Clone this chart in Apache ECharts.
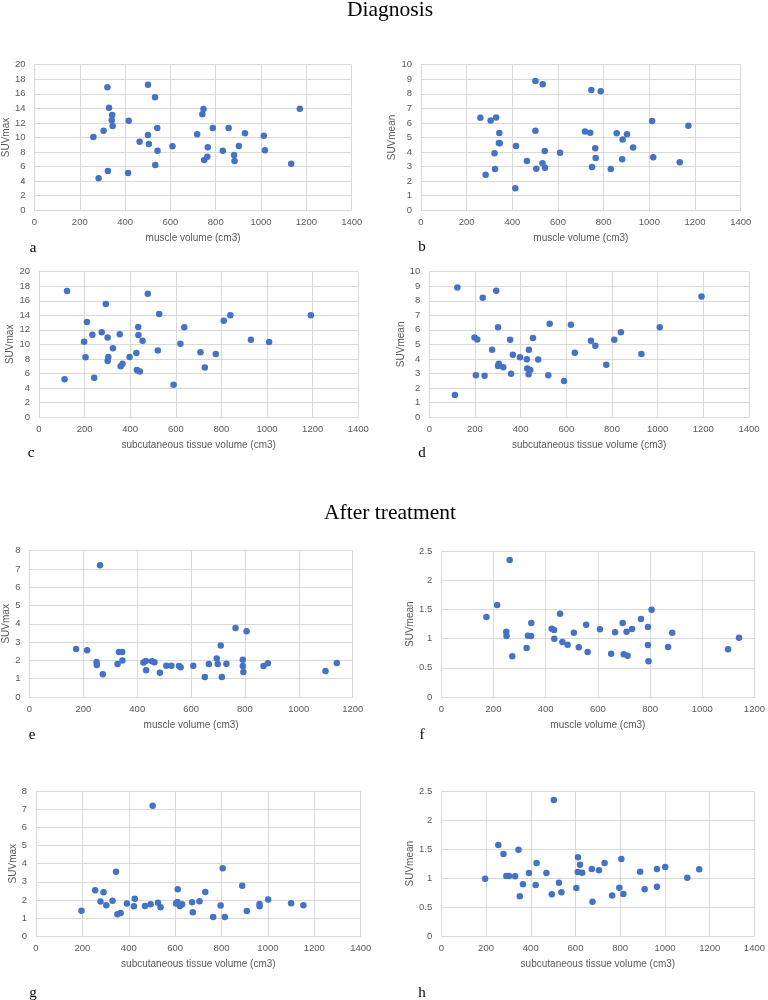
<!DOCTYPE html>
<html>
<head>
<meta charset="utf-8">
<script src="https://cdn.jsdelivr.net/npm/echarts@6/dist/echarts.min.js"></script>
<style>
html,body{margin:0;padding:0;background:#fff;}
#chart{width:768px;height:1000px;}
</style>
</head>
<body>
<div id="chart"></div>
<script>
// ---- Diagnosis: muscle volume (cm3) ----
const muscleDiag = [260, 283, 305, 322, 324, 329, 341, 343, 345, 413, 416, 464, 501, 501, 505, 532, 533, 542, 543, 609, 718, 741, 746, 749, 763, 765, 787, 831, 857, 881, 883, 902, 929, 1012, 1017, 1133, 1171];
const suvmaxMuscleDiag = [10.07, 4.39, 10.94, 16.89, 5.40, 14.1, 12.36, 13.09, 11.58, 5.13, 12.31, 9.43, 17.26, 10.34, 9.11, 15.52, 6.22, 11.31, 8.19, 8.79, 10.44, 13.18, 13.91, 6.91, 7.37, 8.65, 11.31, 8.19, 11.31, 7.60, 6.77, 8.83, 10.57, 10.25, 8.24, 6.41, 13.96];
const suvmeanMuscleDiag = [6.36, 2.45, 6.16, 3.91, 2.84, 6.38, 4.62, 5.31, 4.60, 1.51, 4.42, 3.39, 8.88, 5.47, 2.86, 3.23, 8.65, 4.07, 2.93, 3.96, 5.42, 5.33, 8.26, 2.97, 4.26, 3.59, 8.17, 2.84, 5.29, 3.50, 4.87, 5.22, 4.32, 6.13, 3.64, 3.30, 5.81];

// ---- Diagnosis: subcutaneous tissue volume (cm3) ----
const subcutDiag = [112, 123, 198, 204, 210, 234, 242, 275, 293, 301, 301, 304, 324, 354, 358, 366, 397, 427, 429, 435, 436, 442, 454, 477, 521, 527, 590, 620, 637, 708, 727, 775, 810, 839, 929, 1009, 1192];
const suvmaxSubcutDiag = [5.18, 17.34, 10.37, 8.21, 13.07, 11.33, 5.41, 11.65, 15.55, 10.96, 7.71, 8.26, 9.45, 11.38, 6.97, 7.34, 8.26, 8.81, 6.47, 12.39, 11.28, 6.28, 10.5, 16.97, 9.17, 14.17, 4.45, 10.09, 12.34, 8.90, 6.83, 8.67, 13.26, 13.99, 10.64, 10.32, 13.99];
const suvmeanSubcutDiag = [1.51, 8.92, 5.48, 2.87, 5.34, 8.21, 2.84, 4.63, 8.69, 6.17, 3.51, 3.67, 3.42, 5.32, 2.98, 4.29, 4.11, 3.97, 3.33, 2.94, 4.63, 3.23, 5.44, 3.95, 2.87, 6.42, 2.48, 6.35, 4.43, 5.25, 4.91, 3.60, 5.32, 5.83, 4.33, 6.17, 8.30];

// ---- After treatment: muscle volume (cm3) ----
const muscleAfter = [173, 214, 262, 249, 250, 272, 327, 332, 344, 345, 423, 432, 433, 455, 464, 484, 508, 527, 555, 561, 608, 651, 666, 695, 699, 710, 714, 731, 765, 806, 792, 792, 794, 869, 885, 1099, 1141];
const suvmaxMuscleAfter = [2.62, 2.55, 7.20, 1.91, 1.75, 1.24, 1.80, 2.46, 2.46, 1.99, 1.88, 1.97, 1.46, 1.95, 1.90, 1.33, 1.71, 1.71, 1.69, 1.62, 1.71, 1.09, 1.80, 2.11, 1.80, 2.81, 1.09, 1.82, 3.77, 3.59, 2.04, 1.69, 1.37, 1.69, 1.84, 1.42, 1.86];
const suvmeanMuscleAfter = [1.373, 1.579, 2.351, 1.121, 1.047, 0.698, 0.841, 1.053, 1.047, 1.270, 1.173, 1.150, 1.001, 1.430, 0.944, 0.898, 1.104, 0.852, 1.241, 0.772, 1.161, 0.744, 1.110, 1.270, 0.732, 1.121, 0.709, 1.167, 1.339, 1.499, 1.201, 0.892, 0.612, 0.858, 1.104, 0.818, 1.018];

// ---- After treatment: subcutaneous tissue volume (cm3) ----
const subcutAfter = [196, 255, 278, 291, 303, 330, 345, 351, 365, 392, 422, 426, 470, 494, 503, 526, 537, 604, 611, 610, 620, 630, 673, 676, 705, 730, 764, 796, 805, 814, 889, 909, 964, 964, 1001, 1100, 1153];
const suvmaxSubcutAfter = [1.41, 2.53, 1.91, 2.42, 1.71, 1.96, 3.56, 1.21, 1.28, 1.80, 1.65, 2.07, 1.67, 1.76, 7.19, 1.85, 1.60, 1.80, 2.59, 1.89, 1.67, 1.76, 1.87, 1.32, 1.93, 2.44, 1.06, 1.69, 3.74, 1.06, 2.79, 1.39, 1.78, 1.65, 2.02, 1.82, 1.71];
const suvmeanSubcutAfter = [0.992, 1.571, 1.416, 1.038, 1.038, 1.032, 1.491, 0.688, 0.894, 1.089, 0.883, 1.261, 1.089, 0.722, 2.345, 0.923, 0.757, 0.831, 1.359, 1.107, 1.233, 1.095, 1.158, 0.596, 1.135, 1.261, 0.700, 0.837, 1.330, 0.728, 1.112, 0.808, 0.854, 1.158, 1.193, 1.009, 1.153];

const titles = ["Diagnosis", "After treatment"];
const panelLetters = ["a", "b", "c", "d", "e", "f", "g", "h"];
const xNames = ["muscle volume (cm3)", "muscle volume (cm3)", "subcutaneous tissue volume (cm3)", "subcutaneous tissue volume (cm3)",
                "muscle volume (cm3)", "muscle volume (cm3)", "subcutaneous tissue volume (cm3)", "subcutaneous tissue volume (cm3)"];
const yNames = ["SUVmax", "SUVmean", "SUVmax", "SUVmean", "SUVmax", "SUVmean", "SUVmax", "SUVmean"];

// panel layout & axis settings (not data)
const panels = [
  {x: muscleDiag,  y: suvmaxMuscleDiag,   grid: {left: 32.3, top: 64.7, width: 319.4, height: 145.6}, xMax: 1400, yMax: 20, yInt: 2,   yGap: 21.5},
  {x: muscleDiag,  y: suvmeanMuscleDiag,  grid: {left: 421,  top: 64.7, width: 319.7, height: 145.6}, xMax: 1400, yMax: 10, yInt: 1,   yGap: 21.5},
  {x: subcutDiag,  y: suvmaxSubcutDiag,   grid: {left: 39,   top: 271.7, width: 319.3, height: 145.3}, xMax: 1400, yMax: 20, yInt: 2,  yGap: 22.5},
  {x: subcutDiag,  y: suvmeanSubcutDiag,  grid: {left: 429.3, top: 271.7, width: 319.7, height: 145.3}, xMax: 1400, yMax: 10, yInt: 1, yGap: 22.5},
  {x: muscleAfter, y: suvmaxMuscleAfter,  grid: {left: 28.3, top: 550.7, width: 324.4, height: 146.3}, xMax: 1200, yMax: 8, yInt: 1,    yGap: 18.5},
  {x: muscleAfter, y: suvmeanMuscleAfter, grid: {left: 441.3, top: 551.3, width: 317, height: 145.7}, xMax: 1200, yMax: 2.5, yInt: 0.5,  yGap: 23.5},
  {x: subcutAfter, y: suvmaxSubcutAfter,  grid: {left: 36,   top: 791, width: 324.7, height: 145.3}, xMax: 1400, yMax: 8, yInt: 1,       yGap: 18},
  {x: subcutAfter, y: suvmeanSubcutAfter, grid: {left: 441.3, top: 791, width: 317, height: 145.3}, xMax: 1400, yMax: 2.5, yInt: 0.5,    yGap: 23.5}
];
const letterPos = [[33, 248], [422, 247], [31, 453], [422, 453], [32, 735], [422, 735], [33, 993], [422, 993]];

const GRAY = '#d9d9d9';
const LABEL = '#595959';
const FONT = '"Liberation Sans", Arial, sans-serif';
const SERIF = '"Liberation Serif", "Times New Roman", serif';
const plain = v => String(v);

const grids = [], xAxes = [], yAxes = [], series = [];
panels.forEach((p, i) => {
  grids.push(Object.assign({containLabel: false}, p.grid));
  xAxes.push({
    type: 'value', gridIndex: i, min: 0, max: p.xMax, interval: 200,
    name: xNames[i], nameLocation: 'middle', nameGap: 23,
    nameTextStyle: {color: LABEL, fontFamily: FONT, fontSize: 10},
    axisLine: {show: true, lineStyle: {color: GRAY, width: 1}},
    axisTick: {show: false},
    axisLabel: {color: LABEL, fontFamily: FONT, fontSize: 9.5, margin: 7, formatter: plain},
    splitLine: {show: true, lineStyle: {color: GRAY, width: 1}}
  });
  yAxes.push({
    type: 'value', gridIndex: i, min: 0, max: p.yMax, interval: p.yInt,
    name: yNames[i], nameLocation: 'middle', nameGap: p.yGap, nameRotate: 90,
    nameTextStyle: {color: LABEL, fontFamily: FONT, fontSize: 10},
    axisLine: {show: false},
    axisTick: {show: false},
    axisLabel: {color: LABEL, fontFamily: FONT, fontSize: 9.5, margin: 9, formatter: plain},
    splitLine: {show: true, lineStyle: {color: GRAY, width: 1}}
  });
  series.push({
    type: 'scatter', xAxisIndex: i, yAxisIndex: i,
    symbol: 'circle', symbolSize: 6.5,
    itemStyle: {color: '#4472C4', opacity: 1},
    data: p.x.map((v, k) => [v, p.y[k]]),
    silent: true
  });
});

const graphics = [
  {type: 'text', x: 390, y: 10, style: {text: titles[0], font: '21.5px ' + SERIF, fill: '#000', align: 'center', verticalAlign: 'middle'}},
  {type: 'text', x: 390, y: 513, style: {text: titles[1], font: '21.5px ' + SERIF, fill: '#000', align: 'center', verticalAlign: 'middle'}}
];
letterPos.forEach((pos, i) => {
  graphics.push({type: 'text', x: pos[0], y: pos[1], style: {text: panelLetters[i], font: '15px ' + SERIF, fill: '#000', align: 'center', verticalAlign: 'middle'}});
});

const chart = echarts.init(document.getElementById('chart'), null, {renderer: 'canvas'});
chart.setOption({
  backgroundColor: '#fff',
  animation: false,
  grid: grids,
  xAxis: xAxes,
  yAxis: yAxes,
  series: series,
  graphic: graphics
});
</script>
</body>
</html>
